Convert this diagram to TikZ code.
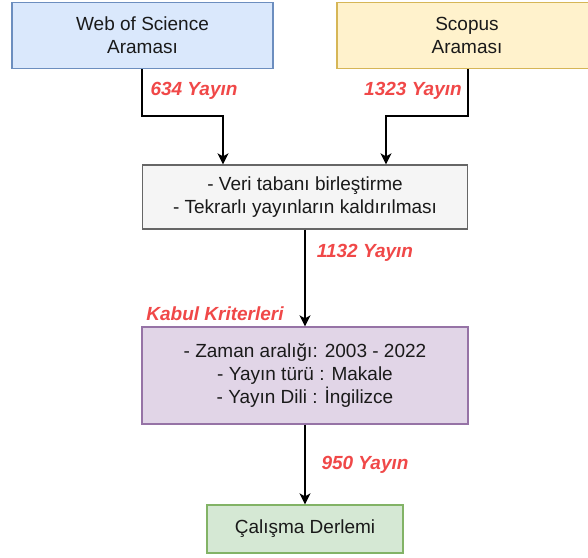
\documentclass[tikz,border=0pt]{standalone}
\usepackage{fontspec}
\setmainfont{Liberation Sans}
\usetikzlibrary{arrows.meta,calc}
\definecolor{bluef}{HTML}{DAE8FC}\definecolor{blued}{HTML}{6C8EBF}
\definecolor{yelf}{HTML}{FFF2CC}\definecolor{yeld}{HTML}{D6B656}
\definecolor{grayf}{HTML}{F5F5F5}\definecolor{grayd}{HTML}{666666}
\definecolor{purf}{HTML}{E1D5E7}\definecolor{purd}{HTML}{9673A6}
\definecolor{grnf}{HTML}{D5E8D4}\definecolor{grnd}{HTML}{82B366}
\definecolor{lblred}{HTML}{F04848}
\definecolor{txt}{HTML}{1A1A1A}
\begin{document}
\begin{tikzpicture}[x=1pt,y=-1pt,
  box/.style={draw, line width=1.3pt, rectangle, align=center, inner sep=0pt,
    font=\fontsize{19}{23}\selectfont, text=txt},
  lbl/.style={font=\fontsize{19}{23}\selectfont\bfseries\itshape, text=lblred, inner sep=0pt},
  conn/.style={line width=1.6pt, -{Stealth[length=11pt,width=11pt,inset=3pt]}}]
\useasboundingbox (0,0) rectangle (588,557);
\clip (0,0) rectangle (588,557);
\node[box, fill=bluef, draw=blued, minimum width=261pt, minimum height=66pt] (wos) at (142.5,35.5) {Web of Science\\Araması};
\node[box, fill=yelf, draw=yeld, minimum width=260pt, minimum height=66pt] (sco) at (467,35.5) {Scopus\\Araması};
\node[box, fill=grayf, draw=grayd, minimum width=325pt, minimum height=64pt] (mid) at (305,197) {- Veri tabanı birleştirme\\- Tekrarlı yayınların kaldırılması};
\node[box, fill=purf, draw=purd, minimum width=326pt, minimum height=97pt] (kab) at (305,375.5) {- Zaman aralığı: 2003 - 2022\\- Yayın türü : Makale\\- Yayın Dili : İngilizce};
\node[box, fill=grnf, draw=grnd, minimum width=196pt, minimum height=48pt] (cal) at (305,529) {Çalışma Derlemi};
\coordinate (w1) at (142,116);
\coordinate (s1) at (468,116);
\coordinate (m1) at (223,0);
\coordinate (m2) at (386,0);
\draw[conn] (wos.south -| w1) -- (w1) -| (mid.north -| m1);
\draw[conn] (sco.south -| s1) -- (s1) -| (mid.north -| m2);
\draw[conn] (mid.south) -- (kab.north);
\draw[conn] (kab.south) -- (cal.north);
\node[lbl] (l1) at (194,91) {634 Yayın};
\node[lbl] (l2) at (413,91) {1323 Yayın};
\node[lbl] (l3) at (365,253) {1132 Yayın};
\node[lbl] (l4) at (215,314) {Kabul Kriterleri};
\node[lbl] (l5) at (365,465) {950 Yayın};
\end{tikzpicture}
\end{document}
